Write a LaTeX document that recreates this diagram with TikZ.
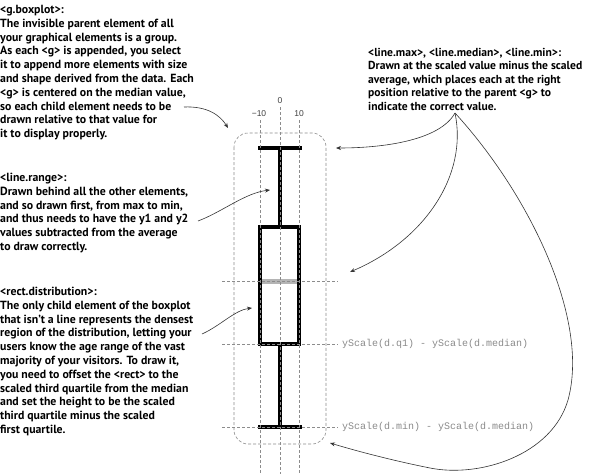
\documentclass[tikz,border=0pt]{standalone}
\usepackage{fontspec}
\setmainfont{PT Sans}
\newfontfamily\monofont{Liberation Mono}
\newfontfamily\axisfont{Liberation Sans}
\usetikzlibrary{arrows.meta}
\definecolor{guide}{HTML}{8C8C8C}
\definecolor{medgray}{HTML}{B4B4B4}
\definecolor{codegray}{HTML}{8A8A8A}
\definecolor{arrowc}{HTML}{333333}
\begin{document}
\begin{tikzpicture}[x=1pt,y=-1pt,
  note/.style={anchor=north west, inner sep=0pt, align=left, font=\bfseries\fontsize{11.8}{13.8}\selectfont},
  guideline/.style={draw=guide, line width=0.6pt, dash pattern=on 3pt off 2pt},
  callout/.style={draw=arrowc, line width=0.6pt, -{Stealth[length=5pt,width=4pt]}},
  code/.style={anchor=west, inner sep=0pt, text=codegray, font=\monofont\fontsize{10}{12}\selectfont},
  axis/.style={inner sep=0pt, text=black!75, font=\axisfont\fontsize{8.5}{10}\selectfont}]

\useasboundingbox (0,0) rectangle (590,474);

% boxplot
\draw[line width=4pt] (280,148) -- (280,427);
\draw[line width=4pt, fill=white] (260,227) rectangle (299,344);
\draw[line width=5pt, medgray] (262,281) -- (297,281);
\draw[line width=4.5pt] (258,148) -- (302,148);
\draw[line width=4.5pt] (258,427) -- (302,427);

% guides
\draw[guideline] (260,120) -- (260,474);
\draw[guideline] (280,107) -- (280,474);
\draw[guideline] (299,120) -- (299,474);
\draw[guideline] (222,281) -- (338,281);
\draw[guideline] (222,344) -- (338,344);
\draw[guideline] (222,427) -- (338,427);
\draw[guideline, rounded corners=14pt] (234,133) rectangle (326,444);

% axis labels
\node[axis] (lzero) at (280,101) {0};
\node[axis] (lminus) at (259,114) {−10};
\node[axis] (lplus) at (299,114) {10};

% code labels
\node[code] (q1lbl) at (342,344) {yScale(d.q1) - yScale(d.median)};
\node[code] (minlbl) at (342,427) {yScale(d.min) - yScale(d.median)};

% notes
\node[note] (gbox) at (0,5) {<g.boxplot>:\\
The invisible parent element of all\\
your graphical elements is a group.\\
As each <g> is appended, you select\\
it to append more elements with size\\
and shape derived from the data. Each\\
<g> is centered on the median value,\\
so each child element needs to be\\
drawn relative to that value for\\
it to display properly.};

\node[note] (lrange) at (0,173) {<line.range>:\\
Drawn behind all the other elements,\\
and so drawn first, from max to min,\\
and thus needs to have the y1 and y2\\
values subtracted from the average\\
to draw correctly.};

\node[note] (rdist) at (0,287) {<rect.distribution>:\\
The only child element of the boxplot\\
that isn't a line represents the densest\\
region of the distribution, letting your\\
users know the age range of the vast\\
majority of your visitors. To draw it,\\
you need to offset the <rect> to the\\
scaled third quartile from the median\\
and set the height to be the scaled\\
third quartile minus the scaled\\
first quartile.};

\node[note, font=\bfseries\fontsize{11.6}{13.5}\selectfont] (lmax) at (368,48) {<line.max>, <line.median>, <line.min>:\\
Drawn at the scaled value minus the scaled\\
average, which places each at the right\\
position relative to the parent <g> to\\
indicate the correct value.};

% callouts
\coordinate (s1) at (184,107);
\coordinate (t1) at (228,128);
\coordinate (s2) at (198,221);
\coordinate (t2) at (270,190);
\coordinate (s3) at (202,334);
\coordinate (t3) at (252,308);
\coordinate (apex) at (455,113);
\coordinate (tmax) at (336,148);
\coordinate (tmed) at (350,272);
\coordinate (tbox) at (330,443);

\draw[callout] (s1) .. controls (207,106) and (220,115) .. (t1);
\draw[callout] (s2) .. controls (222,212) and (245,193) .. (t2);
\draw[callout] (s3) .. controls (220,326) and (235,310) .. (t3);
\draw[callout] (apex) .. controls (440,140) and (385,148) .. (tmax);
\draw[callout] (apex) .. controls (468,175) and (425,240) .. (tmed);
\draw[callout] (apex) .. controls (530,195) and (590,320) .. (568,400)
  .. controls (552,455) and (480,478) .. (430,468)
  .. controls (395,461) and (360,452) .. (tbox);
\end{tikzpicture}
\end{document}
